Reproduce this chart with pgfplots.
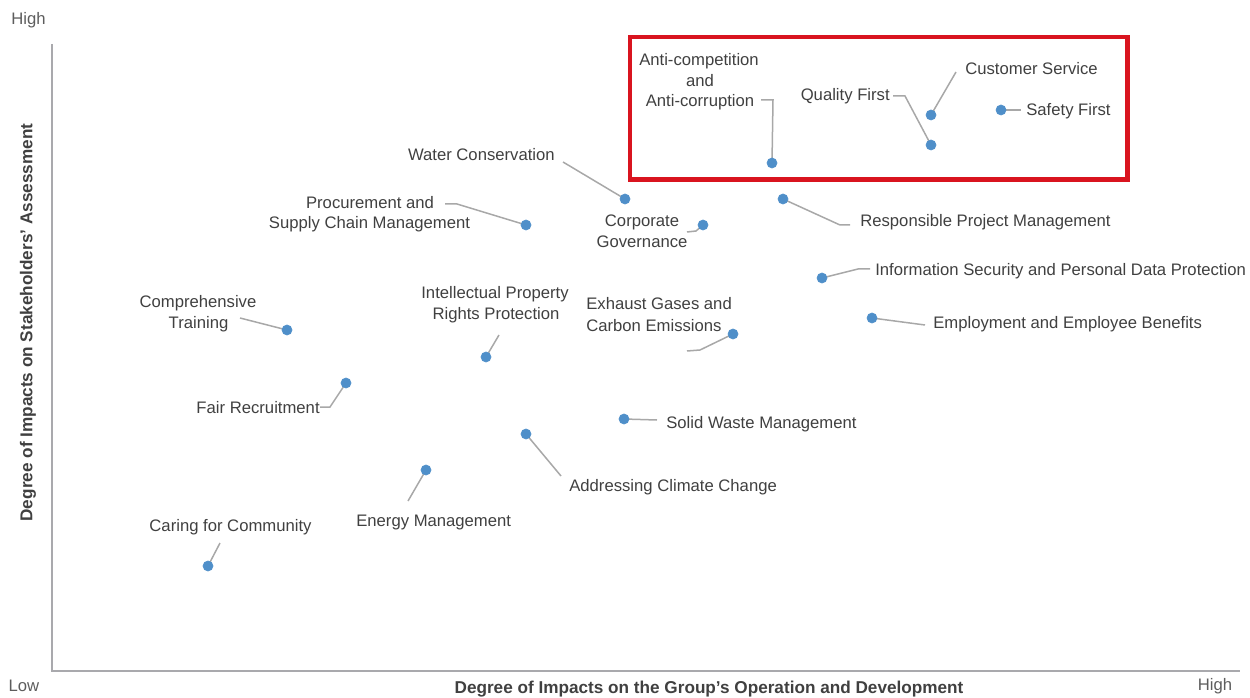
\documentclass[border=0pt]{standalone}
\usepackage{pgfplots}
\pgfplotsset{compat=1.18}
\usepackage{fontspec}
\setmainfont{Liberation Sans}
\definecolor{txt}{HTML}{404040}
\definecolor{axc}{HTML}{A9A9AD}
\definecolor{lead}{HTML}{A8A8A8}
\definecolor{dot}{HTML}{4F8FC9}
\definecolor{redbox}{HTML}{D9141F}
\tikzset{lab/.style={font=\fontsize{10}{12}\selectfont, text=txt, inner sep=0pt}}
\pgfplotsset{ldr/.style={lead, line width=0.9pt, no markers}}
\begin{document}
\begin{tikzpicture}
\begin{axis}[scale only axis, width=750pt, height=418.2pt,
  xmin=0, xmax=1250, ymin=0, ymax=697, y dir=reverse,
  hide axis, clip=false]
\path (axis cs:0,0) rectangle (axis cs:1250,697);
% axes
\addplot[axc, line width=1.2pt, no markers] coordinates {(52,44)(52,671)(1240,671)};
% red highlight box
\draw[redbox, line width=2.8pt] (axis cs:630,37) rectangle (axis cs:1127.5,179.5);
% leader lines
\addplot[ldr] coordinates {(1001,110)(1021,110)};
\addplot[ldr] coordinates {(931,115)(956,72)};
\addplot[ldr] coordinates {(931,145)(905,96)(893,96)};
\addplot[ldr] coordinates {(772,163)(773,100)(761,100)};
\addplot[ldr] coordinates {(625,199)(563,162)};
\addplot[ldr] coordinates {(526,225)(457,204)(445,204)};
\addplot[ldr] coordinates {(703,225)(696,231)(687,232)};
\addplot[ldr] coordinates {(783,199)(840,225)(850,225)};
\addplot[ldr] coordinates {(822,278)(858,269)(870,269)};
\addplot[ldr] coordinates {(872,318)(925,325)};
\addplot[ldr] coordinates {(733,334)(700,350)(687,351)};
\addplot[ldr] coordinates {(486,357)(499,335)};
\addplot[ldr] coordinates {(287,330)(240,318)};
\addplot[ldr] coordinates {(346,383)(330,407)(320,407)};
\addplot[ldr] coordinates {(624,419)(657,420)};
\addplot[ldr] coordinates {(526,434)(561,476)};
\addplot[ldr] coordinates {(426,470)(408,501)};
\addplot[ldr] coordinates {(208,566)(220,543)};
% points
\addplot[dot, only marks, mark=*, mark size=3pt, mark options={draw=dot, fill=dot}] coordinates {
(1001,110)(931,115)(931,145)(772,163)(625,199)(526,225)(703,225)(783,199)(822,278)
(872,318)(733,334)(486,357)(287,330)(346,383)(624,419)(526,434)(426,470)(208,566)};
% labels
\node[lab, anchor=base west] at (axis cs:1026,116) {Safety First};
\node[lab, anchor=base west] at (axis cs:965,75) {Customer Service};
\node[lab, anchor=base east] at (axis cs:890,101) {Quality First};
\node[lab, anchor=base] at (axis cs:699,66) {Anti-competition};
\node[lab, anchor=base] at (axis cs:700,86.5) {and};
\node[lab, anchor=base] at (axis cs:700,107) {Anti-corruption};
\node[lab, anchor=base east] at (axis cs:555,160.5) {Water Conservation};
\node[lab, anchor=base] at (axis cs:370,208.5) {Procurement and};
\node[lab, anchor=base] at (axis cs:369.5,229) {Supply Chain Management};
\node[lab, anchor=base] at (axis cs:642,227) {Corporate};
\node[lab, anchor=base] at (axis cs:642,247.5) {Governance};
\node[lab, anchor=base west] at (axis cs:860,227) {Responsible Project Management};
\node[lab, anchor=base west] at (axis cs:875,276) {Information Security and Personal Data Protection};
\node[lab, anchor=base west] at (axis cs:933,329) {Employment and Employee Benefits};
\node[lab, anchor=base west] at (axis cs:586,310) {Exhaust Gases and};
\node[lab, anchor=base west] at (axis cs:586,331) {Carbon Emissions};
\node[lab, anchor=base] at (axis cs:495,299) {Intellectual Property};
\node[lab, anchor=base] at (axis cs:496,319.5) {Rights Protection};
\node[lab, anchor=base] at (axis cs:198,308) {Comprehensive};
\node[lab, anchor=base] at (axis cs:198.5,329) {Training};
\node[lab, anchor=base east] at (axis cs:320,413.5) {Fair Recruitment};
\node[lab, anchor=base west] at (axis cs:666,428) {Solid Waste Management};
\node[lab, anchor=base west] at (axis cs:569,491) {Addressing Climate Change};
\node[lab, anchor=base west] at (axis cs:356,526) {Energy Management};
\node[lab, anchor=base] at (axis cs:230.5,531.5) {Caring for Community};
% axis end labels
\node[lab, text=txt!85] at (axis cs:28.5,20) {High};
\node[lab, text=txt!85] at (axis cs:24,686) {Low};
\node[lab, text=txt!85] at (axis cs:1215,686) {High};
% axis titles
\node[lab, font=\fontsize{10.3}{12}\selectfont\bfseries, anchor=center] at (axis cs:709,689.5) {Degree of Impacts on the Group’s Operation and Development};
\node[lab, font=\fontsize{10.3}{12}\selectfont\bfseries, anchor=center, rotate=90] at (axis cs:28,322.5) {Degree of Impacts on Stakeholders’ Assessment};
\end{axis}
\end{tikzpicture}
\end{document}
